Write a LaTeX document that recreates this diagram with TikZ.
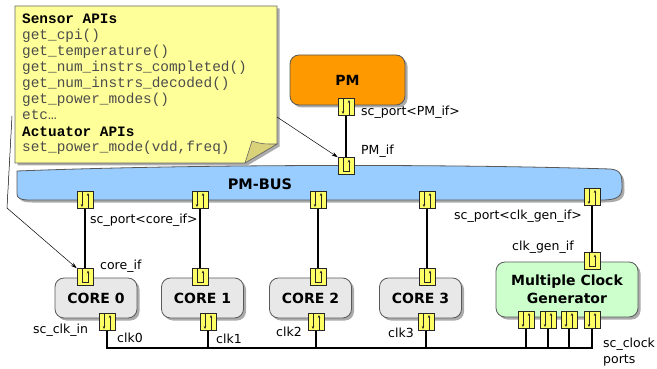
\documentclass[tikz,border=0pt]{standalone}
\usepackage{fontspec}
\setmainfont{DejaVu Sans}
\newfontfamily\notefont{Liberation Mono}
\usetikzlibrary{arrows.meta,shadows}
\definecolor{noteyellow}{HTML}{FFFF99}
\definecolor{notefold}{HTML}{D9D27A}
\definecolor{portyellow}{HTML}{FFFF66}
\definecolor{busblue}{HTML}{99CCFF}
\definecolor{pmorange}{HTML}{FF9900}
\definecolor{coregray}{HTML}{E8E8E8}
\definecolor{clkgreen}{HTML}{CCFFCC}
\tikzset{
  shade it/.style={drop shadow={shadow xshift=2.5pt,shadow yshift=-2.5pt,fill=black!55,opacity=.6}},
  module/.style={draw=black!65, line width=0.8pt, rounded corners=9pt, shade it,
    font=\fontsize{14}{18}\selectfont\bfseries, align=center, inner sep=0pt},
  port/.style={draw=black!85, line width=0.7pt, fill=portyellow, minimum width=16pt,
    minimum height=17pt, inner sep=0pt},
  portarrow/.style={line width=0.6pt, -{Stealth[length=3pt,width=2.6pt]}},
  duplex/.style={port, path picture={
    \draw[portarrow] ([xshift=-3pt]path picture bounding box.north)
      -- ([xshift=-3pt,yshift=1.5pt]path picture bounding box.south);
    \draw[portarrow] ([xshift=3pt]path picture bounding box.south)
      -- ([xshift=3pt,yshift=-1.5pt]path picture bounding box.north);}},
  loopback/.style={port, path picture={
    \draw[portarrow] ([xshift=-3pt]path picture bounding box.north)
      -- ([xshift=-3pt,yshift=3pt]path picture bounding box.south)
      -- ([xshift=3pt,yshift=3pt]path picture bounding box.south)
      -- ([xshift=3pt,yshift=-2pt]path picture bounding box.north);}},
  wire/.style={line width=1.6pt},
  pointer/.style={line width=0.5pt, -{Stealth[length=6pt,width=4pt]}},
  lbl/.style={anchor=base west, inner sep=0pt, font=\fontsize{12.5}{15}\selectfont},
  notetxt/.style={anchor=base west, inner sep=0pt, text=black!70,
    font=\notefont\fontsize{14.4}{16}\selectfont},
}
\begin{document}
\begin{tikzpicture}[x=1pt,y=-1pt]
\useasboundingbox (0,0) rectangle (657,369);

\filldraw[fill=noteyellow, draw=black!60, line width=0.6pt, shade it]
  (15,6) -- (277,6) -- (277,144) -- (245,163) -- (15,163) -- cycle;
\filldraw[fill=notefold, draw=black!60, line width=0.6pt]
  (245,163) -- (252,141) .. controls (262,144) .. (277,144) -- cycle;
\foreach \txt [count=\i from 0] in {{\textcolor{black}{\textbf{Sensor APIs}}},get\_cpi(),
    get\_temperature(),get\_num\_instrs\_completed(),get\_num\_instrs\_decoded(),
    get\_power\_modes(),etc…,{\textcolor{black}{\textbf{Actuator APIs}}},
    {set\_power\_mode(vdd,freq)}}
  \node[notetxt] (line\i) at (22,{24+16*\i}) {\txt};

\filldraw[fill=busblue, draw=black!65, line width=0.8pt, shade it]
  (17,171) .. controls (200,164) and (450,164) .. (610,169)
  .. controls (622,170) and (622,176) .. (622,188)
  .. controls (622,197) and (616,200) .. (602,200)
  -- (30,200) .. controls (20,200) and (17,198) .. (17,194) -- cycle;
\node[font=\fontsize{14.5}{16}\selectfont\bfseries] (buslabel) at (260,184) {PM-BUS};

\node[module, fill=pmorange, minimum width=115pt, minimum height=50pt] (pm) at (347.5,80) {PM};
\node[module, fill=coregray, minimum width=82pt, minimum height=40pt] (core0) at (96,298) {CORE 0};
\node[module, fill=coregray, minimum width=82pt, minimum height=40pt] (core1) at (202.5,298) {CORE 1};
\node[module, fill=coregray, minimum width=82pt, minimum height=40pt] (core2) at (310.5,298) {CORE 2};
\node[module, fill=coregray, minimum width=82pt, minimum height=40pt] (core3) at (420.5,298) {CORE 3};
\node[module, fill=clkgreen, minimum width=142pt, minimum height=55pt] (clkgen) at (567,289.5) {Multiple Clock\\Generator};

\node[duplex] (pmp) at (346,107) {};
\node[loopback] (pmif) at (346,166) {};
\node[duplex] (b0) at (85,200) {};
\node[duplex] (b1) at (200,200) {};
\node[duplex] (b2) at (318,200) {};
\node[duplex] (b3) at (427,200) {};
\node[duplex] (bg) at (592,197) {};
\node[loopback] (i0) at (85,277) {};
\node[loopback] (i1) at (200,277) {};
\node[loopback] (i2) at (318,277) {};
\node[loopback] (i3) at (427,277) {};
\node[loopback] (gi) at (592,261) {};
\node[duplex] (k0) at (107,322) {};
\node[duplex] (k1) at (208,322) {};
\node[duplex] (k2) at (316,322) {};
\node[duplex] (k3) at (426,322) {};
\node[duplex] (g1) at (526,320) {};
\node[duplex] (g2) at (548,320) {};
\node[duplex] (g3) at (569,320) {};
\node[duplex] (g4) at (592,320) {};

\draw[wire] (pmp) -- (pmif);
\draw[wire] (b0) -- (i0);
\draw[wire] (b1) -- (i1);
\draw[wire] (b2) -- (i2);
\draw[wire] (b3) -- (i3);
\draw[wire] (bg) -- (gi);
\coordinate (clkline) at (0,348);
\draw[wire] (k0.south) |- (g4.south |- clkline) -- (g4.south);
\foreach \p in {k1,k2,k3,g1,g2,g3}
  \draw[wire] (\p.south) -- (\p.south |- clkline);

\coordinate (noteL) at (12,116);
\coordinate (bendL) at (7,208);
\coordinate (noteR) at (277,117);
\draw[pointer] (noteL) -- (bendL) -- (i0.north west);
\draw[pointer] (noteR) -- (pmif.north west);

\node[lbl] (lpmp) at (361,116) {sc\_port<PM\_if>};
\node[lbl] (lpmif) at (361,154) {PM\_if};
\node[lbl] (lcport) at (90,223) {sc\_port<core\_if>};
\node[lbl] (lcif) at (100,269) {core\_if};
\node[lbl] (lgport) at (454,219) {sc\_port<clk\_gen\_if>};
\node[lbl] (lgif) at (512,251) {clk\_gen\_if};
\node[lbl] (lclkin) at (33,333) {sc\_clk\_in};
\node[lbl] (lk0) at (117,342) {clk0};
\node[lbl] (lk1) at (216,343) {clk1};
\node[lbl] (lk2) at (276,336) {clk2};
\node[lbl] (lk3) at (388,337) {clk3};
\node[lbl] (lports) at (603,347) {sc\_clock};
\node[lbl] (lports2) at (603,363) {ports};
\end{tikzpicture}
\end{document}
